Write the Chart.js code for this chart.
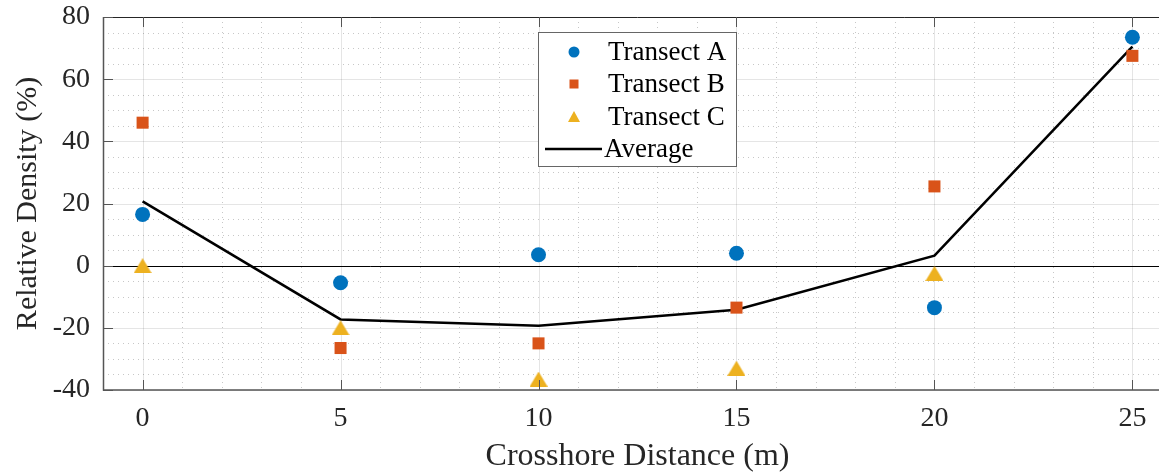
<!DOCTYPE html>
<html>
<head>
<meta charset="utf-8">
<script src="https://cdn.jsdelivr.net/npm/chart.js@4/dist/chart.umd.min.js"></script>
<style>
  html, body { margin: 0; padding: 0; background: #fff; overflow: hidden; }
  #wrap { width: 1159px; height: 476px; overflow: hidden; }
</style>
</head>
<body>
<div id="wrap"><canvas id="chart" width="1185" height="476"></canvas></div>
<script>
// Data
const distances = [0, 5, 10, 15, 20, 25];
const transectA = [16.5, -5.5, 3.5, 4, -13.5, 73.5];
const transectB = [46, -26.5, -25, -13.5, 25.5, 67.5];
const transectC = [0, -20, -36.5, -33, -2.5, null];
const average = [20.7, -17.3, -19.3, -14.2, 3.2, 70.5];
const xTicks = [0, 5, 10, 15, 20, 25];
const yTicks = [-40, -20, 0, 20, 40, 60, 80];

const FONT = '"Liberation Serif", "Times New Roman", serif';
const colA = '#0072BD';
const colB = '#D95319';
const colC = '#EDB120';

function toPoints(ys) {
    return distances.map((x, i) => ({ x: x, y: ys[i] })).filter(p => p.y !== null);
}

// MATLAB style triangle, centred on its point
function makeTriangle(w, h, color) {
    const c = document.createElement('canvas');
    c.width = w; c.height = h;
    const g = c.getContext('2d');
    g.fillStyle = color;
    g.beginPath();
    g.moveTo(w / 2, 0); g.lineTo(w, h); g.lineTo(0, h);
    g.closePath(); g.fill();
    return c;
}
const triangleMarker = makeTriangle(18, 15, colC);

// Grid, zero line, axes box and inward ticks
const axesPlugin = {
    id: 'axesPlugin',
    beforeDatasetsDraw(chart) {
        const { ctx, chartArea: a, scales: { x, y } } = chart;
        ctx.save();
        // minor dotted grid
        ctx.strokeStyle = 'rgba(0,0,0,0.22)';
        ctx.lineWidth = 1;
        ctx.setLineDash([1, 4]);
        for (let v = -1; v <= 26; v++) {
            if (v % 5 === 0) continue;
            const px = Math.round(x.getPixelForValue(v)) + 0.5;
            ctx.beginPath(); ctx.moveTo(px, a.top); ctx.lineTo(px, a.bottom); ctx.stroke();
        }
        for (let v = -40; v <= 80; v += 5) {
            if (v % 20 === 0) continue;
            const py = Math.round(y.getPixelForValue(v)) + 0.5;
            ctx.beginPath(); ctx.moveTo(a.left, py); ctx.lineTo(a.right, py); ctx.stroke();
        }
        ctx.setLineDash([]);
        // major grid
        ctx.strokeStyle = 'rgba(0,0,0,0.1)';
        xTicks.forEach(v => {
            const px = Math.round(x.getPixelForValue(v)) + 0.5;
            ctx.beginPath(); ctx.moveTo(px, a.top); ctx.lineTo(px, a.bottom); ctx.stroke();
        });
        yTicks.forEach(v => {
            const py = Math.round(y.getPixelForValue(v)) + 0.5;
            ctx.beginPath(); ctx.moveTo(a.left, py); ctx.lineTo(a.right, py); ctx.stroke();
        });
        // zero line
        const y0 = Math.round(y.getPixelForValue(0)) + 0.5;
        ctx.strokeStyle = '#000';
        ctx.beginPath(); ctx.moveTo(a.left, y0); ctx.lineTo(a.right, y0); ctx.stroke();
        ctx.restore();
    },
    afterDatasetsDraw(chart) {
        const { ctx, chartArea: a, scales: { x, y } } = chart;
        ctx.save();
        // box
        ctx.strokeStyle = '#262626';
        ctx.lineWidth = 1;
        ctx.beginPath(); ctx.moveTo(a.left, a.top + 0.5); ctx.lineTo(a.right, a.top + 0.5); ctx.stroke();
        ctx.strokeStyle = '#555';
        ctx.lineWidth = 1.5;
        ctx.beginPath();
        ctx.moveTo(a.left + 0.5, a.top); ctx.lineTo(a.left + 0.5, a.bottom);
        ctx.lineTo(a.right, a.bottom);
        ctx.stroke();
        // inward ticks
        ctx.lineWidth = 1;
        ctx.strokeStyle = '#555';
        const tl = 10;
        xTicks.forEach(v => {
            const px = Math.round(x.getPixelForValue(v)) + 0.5;
            ctx.beginPath(); ctx.moveTo(px, a.bottom); ctx.lineTo(px, a.bottom - tl); ctx.stroke();
            ctx.beginPath(); ctx.moveTo(px, a.top); ctx.lineTo(px, a.top + tl); ctx.stroke();
        });
        yTicks.forEach(v => {
            const py = Math.round(y.getPixelForValue(v)) + 0.5;
            ctx.beginPath(); ctx.moveTo(a.left, py); ctx.lineTo(a.left + tl, py); ctx.stroke();
        });
        ctx.restore();
    }
};

// Legend box inside the axes
const legendPlugin = {
    id: 'boxLegend',
    afterDraw(chart) {
        const { ctx } = chart;
        const bx = 538, by = 32, bw = 198, bh = 134;
        ctx.save();
        ctx.fillStyle = '#fff';
        ctx.fillRect(bx, by, bw, bh);
        ctx.strokeStyle = '#666';
        ctx.lineWidth = 1;
        ctx.strokeRect(bx + 0.5, by + 0.5, bw, bh);
        const mx = 574, tx = 608;
        const rows = [52, 84, 117, 149];
        ctx.font = '27px ' + FONT;
        ctx.textBaseline = 'middle';
        chart.data.datasets.forEach((ds, i) => {
            const cy = rows[i];
            if (ds.pointStyle === 'circle') {
                ctx.fillStyle = ds.backgroundColor;
                ctx.beginPath(); ctx.arc(mx, cy, 5.5, 0, Math.PI * 2); ctx.fill();
            } else if (ds.pointStyle === 'rect') {
                ctx.fillStyle = ds.backgroundColor;
                ctx.fillRect(mx - 4.5, cy - 4.5, 9, 9);
            } else if (ds.pointStyle === triangleMarker) {
                ctx.fillStyle = ds.backgroundColor;
                ctx.beginPath();
                ctx.moveTo(mx, cy - 6); ctx.lineTo(mx + 6, cy + 5); ctx.lineTo(mx - 6, cy + 5);
                ctx.closePath(); ctx.fill();
            } else {
                ctx.strokeStyle = ds.borderColor;
                ctx.lineWidth = 2.5;
                ctx.beginPath(); ctx.moveTo(545, cy); ctx.lineTo(602, cy); ctx.stroke();
            }
            ctx.fillStyle = '#000';
            ctx.fillText(ds.label, ds.pointStyle ? tx : 604, cy + 1);
        });
        ctx.restore();
    }
};

new Chart(document.getElementById('chart'), {
    type: 'scatter',
    data: {
        datasets: [
            {
                label: 'Transect A', data: toPoints(transectA),
                pointStyle: 'circle', pointRadius: 7.5, borderWidth: 0,
                backgroundColor: colA, borderColor: colA
            },
            {
                label: 'Transect B', data: toPoints(transectB),
                pointStyle: 'rect', pointRadius: 8.5, borderWidth: 0,
                backgroundColor: colB, borderColor: colB
            },
            {
                label: 'Transect C', data: toPoints(transectC),
                pointStyle: triangleMarker, pointRadius: 9, borderWidth: 0,
                backgroundColor: colC, borderColor: colC
            },
            {
                label: 'Average', type: 'line', data: toPoints(average),
                pointStyle: false, pointRadius: 0, showLine: true,
                borderColor: '#000', borderWidth: 2.5, tension: 0, fill: false
            }
        ]
    },
    options: {
        responsive: false,
        animation: false,
        layout: { padding: { top: 17, right: 13, left: 0, bottom: 0 } },
        plugins: { legend: { display: false }, tooltip: { enabled: false } },
        scales: {
            x: {
                type: 'linear', min: -1, max: 26,
                afterBuildTicks: s => { s.ticks = xTicks.map(v => ({ value: v })); },
                afterFit: s => { s.height = 86; s.paddingLeft = 0; s.paddingRight = 0; },
                grid: { display: false, drawTicks: false },
                border: { display: false },
                ticks: {
                    autoSkip: false, maxRotation: 0, padding: 12,
                    color: '#262626', font: { family: FONT, size: 28 }
                },
                title: {
                    display: true, text: 'Crosshore Distance (m)',
                    color: '#262626', font: { family: FONT, size: 32 },
                    padding: { top: 0, bottom: 0 }
                }
            },
            y: {
                min: -40, max: 80,
                afterBuildTicks: s => { s.ticks = yTicks.map(v => ({ value: v })); },
                afterFit: s => { s.width = 103; s.paddingTop = 0; s.paddingBottom = 0; },
                grid: { display: false, drawTicks: false },
                border: { display: false },
                ticks: {
                    autoSkip: false, padding: 13,
                    color: '#262626', font: { family: FONT, size: 28 }
                },
                title: {
                    display: true, text: 'Relative Density (%)',
                    color: '#262626', font: { family: FONT, size: 30 },
                    padding: { top: 10, bottom: 0 }
                }
            }
        }
    },
    plugins: [axesPlugin, legendPlugin]
});
</script>
</body>
</html>
